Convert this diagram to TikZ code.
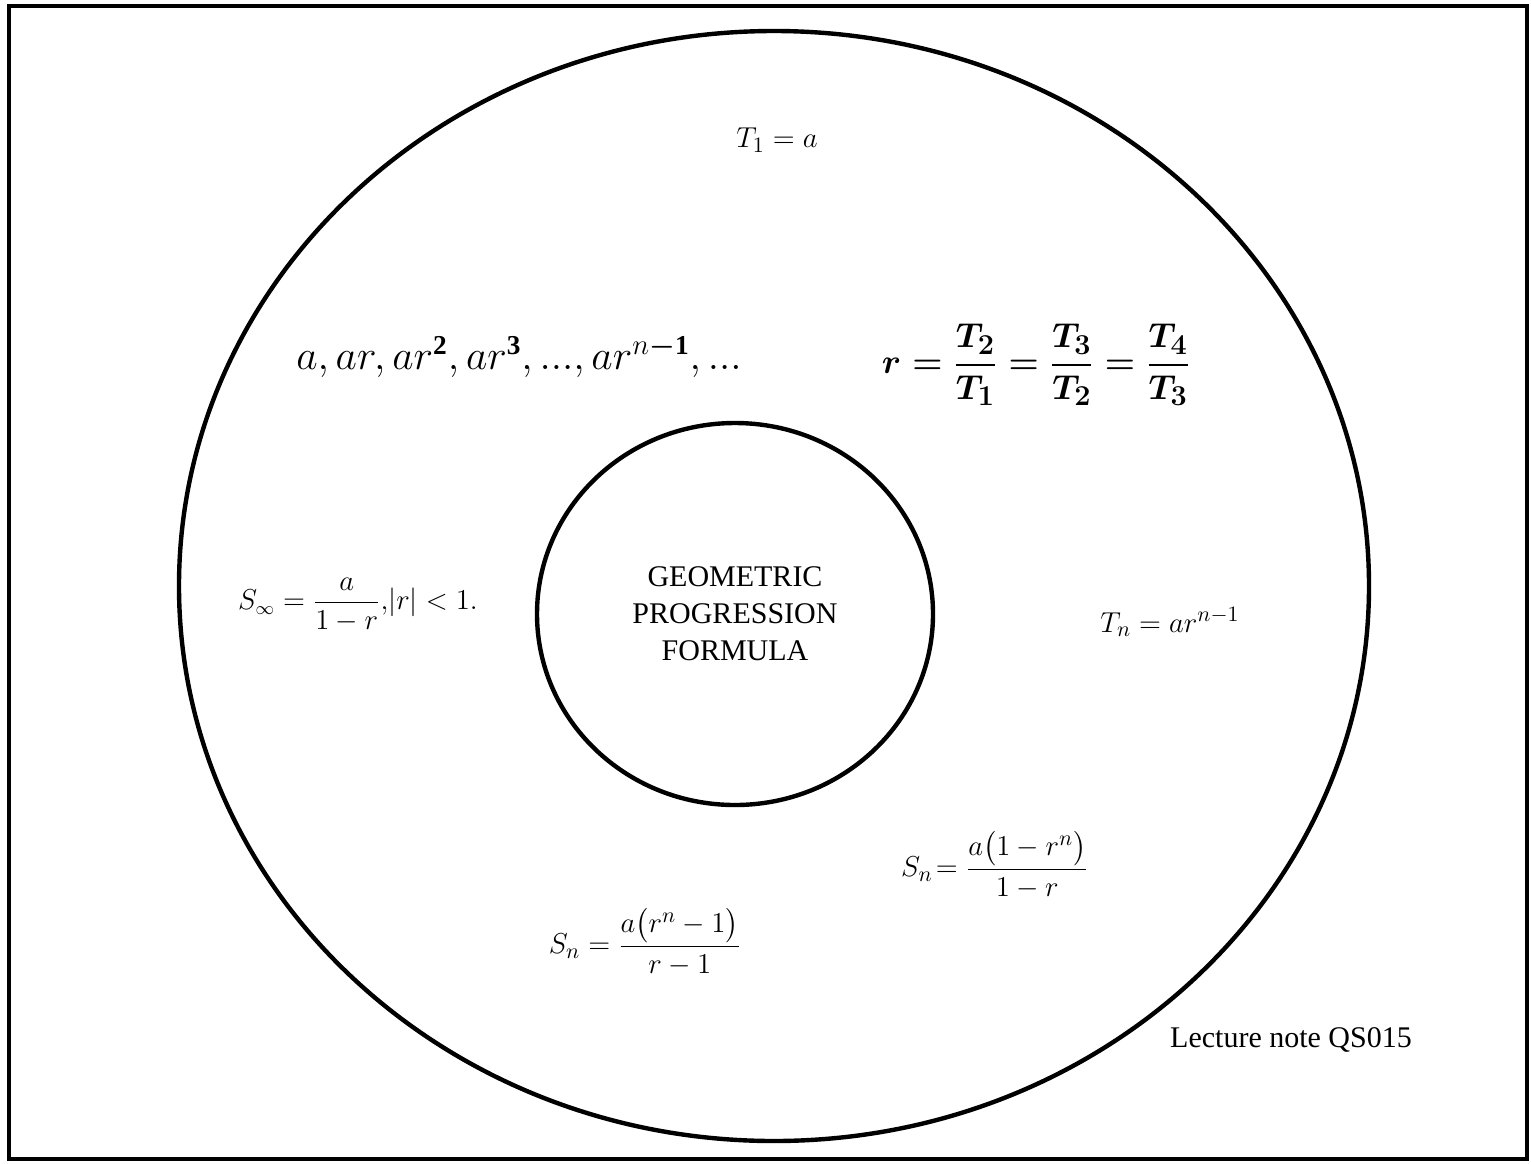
\documentclass[tikz,border=0pt]{standalone}
\usepackage{amsmath}
\usepackage{fontspec}
\setmainfont{Liberation Serif}
\usetikzlibrary{shapes.geometric}

\begin{document}
\begin{tikzpicture}[x=0.5pt, y=-0.5pt,
    ring/.style={draw, line width=2.2pt, ellipse, inner sep=0pt},
    txt/.style={font=\fontsize{15}{18.5}\selectfont, align=center},
    small/.style={font=\fontsize{13.5}{16}\selectfont},
    big/.style={font=\fontsize{19.5}{23.5}\selectfont},
    bigbold/.style={font=\fontsize{19}{23}\selectfont\boldmath},
  ]
    \useasboundingbox (0,0) rectangle (1531,1163);
    \draw[line width=2pt] (9,6) rectangle (1527,1159);

    \node[ring, minimum width=595pt, minimum height=555pt] (outer) at (774,586) {};
    \node[ring, txt, minimum width=198pt, minimum height=191pt] (core) at (735,614)
      {GEOMETRIC\\PROGRESSION\\FORMULA};

    \node[txt] (first) at (777,140) {$T_1 = a$};
    \node[big] (seq)   at (519,357)
      {$a, ar, ar^{\mathbf{2}}, ar^{\mathbf{3}},...,ar^{n\text{\boldmath$-$}\mathbf{1}},...$};
    \node[bigbold] (ratio) at (1036,365)
      {$r = \dfrac{T_2}{T_1} = \dfrac{T_3}{T_2} = \dfrac{T_4}{T_3}$};
    \node[small] (sinf)  at (358,605) {$S_{\infty} = \dfrac{a}{1-r},\!\lvert r\rvert < 1.$};
    \node[txt] (nth)   at (1170,622) {$T_n = ar^{n-1}$};
    \node[txt] (sumr)  at (995,865) {$S_n\!= \dfrac{a\bigl(1-r^n\bigr)}{1-r}$};
    \node[txt] (suml)  at (645,942) {$S_n = \dfrac{a\bigl(r^n-1\bigr)}{r-1}$};
    \node[txt] (note)  at (1291,1040) {Lecture note QS015};
  \end{tikzpicture}
\end{document}
